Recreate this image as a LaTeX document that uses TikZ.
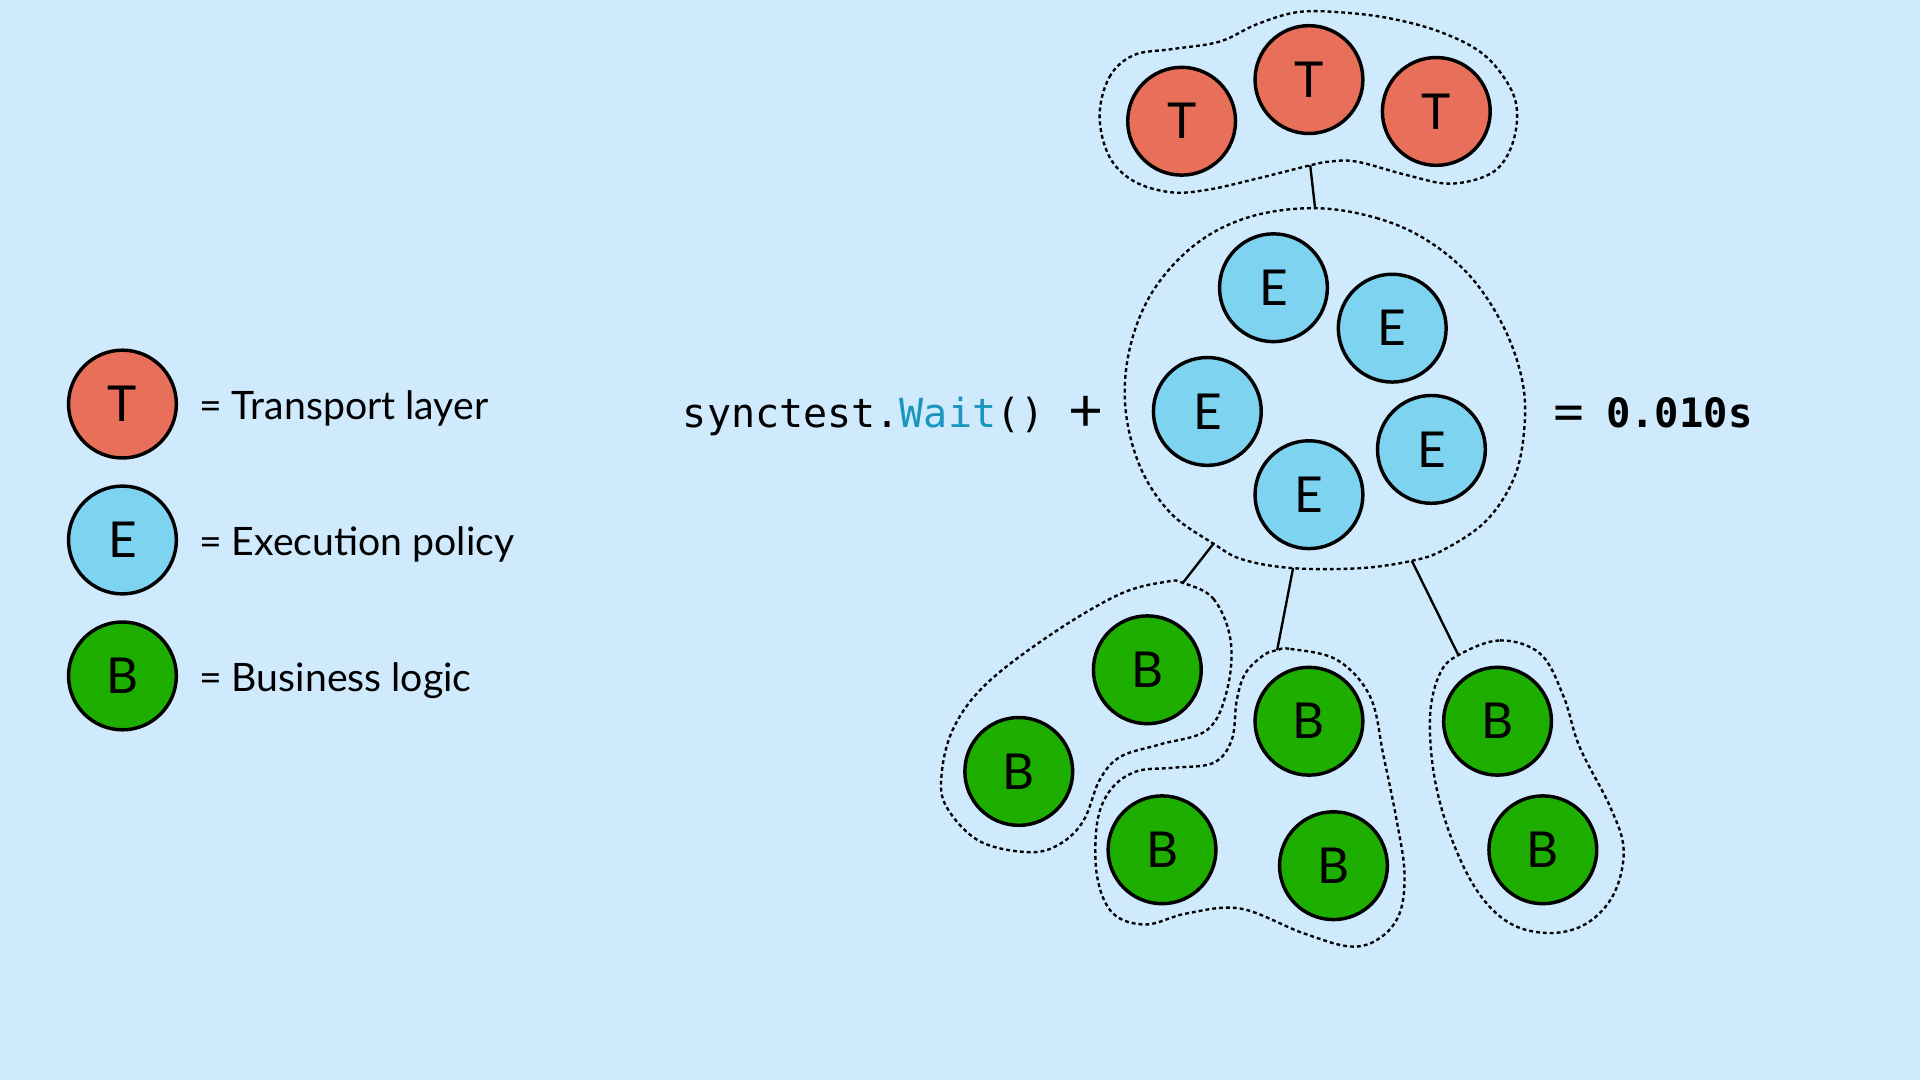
\documentclass[tikz,border=0pt]{standalone}
\usepackage{fontspec}
\setmainfont{Lato}
\setmonofont{DejaVu Sans Mono}
\usetikzlibrary{positioning}

\definecolor{bgblue}{RGB}{207,233,253}
\definecolor{tred}{RGB}{232,111,90}
\definecolor{eblue}{RGB}{126,211,240}
\definecolor{bgreen}{RGB}{30,174,0}
\definecolor{waitblue}{RGB}{24,150,190}

\begin{document}
\begin{tikzpicture}[x=0.01cm,y=-0.01cm,
  ball/.style={circle,draw,line width=0.8pt,minimum size=0.88cm,inner sep=0pt,font=\fontsize{11.5}{12}\selectfont},
  tball/.style={ball,fill=tred},
  eball/.style={ball,fill=eblue},
  bball/.style={ball,fill=bgreen},
  blob/.style={line width=0.55pt,dash pattern=on 0.9pt off 0.7pt},
  link/.style={line width=0.55pt},
  legtext/.style={anchor=base west,inner sep=0pt,font=\fontsize{9.1}{10}\selectfont}]

\fill[bgblue] (0,0) rectangle (1568,882);

% Legend
\node[tball] (legT) at (100,330) {T};
\node[eball] (legE) at (100,441) {E};
\node[bball] (legB) at (100,552) {B};
\node[legtext] (legTtext) at (162,342.5) {= Transport layer};
\node[legtext] (legEtext) at (162,453.5) {= Execution policy};
\node[legtext] (legBtext) at (162,564.5) {= Business logic};

% Equation
\node[anchor=base west,inner sep=0pt,font=\fontsize{9.3}{10}\ttfamily] (call) at (557,349) {synctest.\textcolor{waitblue}{Wait}()};
\node[inner sep=0pt,font=\fontsize{14}{14}\selectfont] (plus) at (887,338) {+};
\node[inner sep=0pt,font=\fontsize{14}{14}\selectfont] (equals) at (1281,343) {=};
\node[anchor=base west,inner sep=0pt,font=\fontsize{9.4}{10}\ttfamily\bfseries] (result) at (1311,349) {0.010s};

% Groups
\draw[blob] plot[smooth cycle,tension=0.6] coordinates {(898,95) (906,63) (926,45) (958,40) (996,34) (1026,20) (1059,10) (1094,10) (1135,15) (1176,26) (1211,44) (1233,71) (1239,95) (1233,123) (1217,142) (1184,150) (1149,143) (1108,132) (1086,132) (1070,135) (1026,146) (986,155) (956,157) (926,148) (906,128)};
\draw[blob] plot[smooth cycle,tension=0.6] coordinates {(1074,170) (1124,178) (1165,196) (1201,226) (1228,267) (1243,310) (1245,348) (1237,389) (1214,425) (1179,449) (1153,458) (1111,464) (1056,464) (1015,457) (991,444) (956,419) (931,381) (919,332) (923,283) (942,237) (977,199) (1021,177)};
\draw[blob] plot[smooth cycle,tension=0.6] coordinates {(966,476) (991,489) (1005,523) (1002,564) (986,596) (947,608) (915,618) (898,637) (885,670) (866,689) (841,696) (800,687) (773,659) (769,632) (779,594) (806,558) (860,517) (915,485) (953,475)};
\draw[blob] plot[smooth cycle,tension=0.6] coordinates {(1043,531) (1054,530) (1092,539) (1119,569) (1130,618) (1141,672) (1147,713) (1143,746) (1127,766) (1103,773) (1064,762) (1013,742) (969,746) (936,755) (909,746) (896,716) (896,672) (907,645) (928,630) (958,627) (991,623) (1006,604) (1010,572) (1017,550) (1032,535)};
\draw[blob] plot[smooth cycle,tension=0.6] coordinates {(1191,535) (1225,523) (1258,534) (1277,569) (1290,610) (1315,659) (1326,694) (1318,730) (1296,754) (1266,762) (1233,754) (1206,727) (1184,681) (1171,632) (1168,583) (1176,550)};

% Attachment points
\coordinate (tgrpBot) at (1070,135);
\coordinate (egrpTop) at (1074,170);
\coordinate (egrpL) at (991,444);
\coordinate (egrpM) at (1056,464);
\coordinate (egrpR) at (1153,458);
\coordinate (bgrpA) at (966,476);
\coordinate (bgrpB) at (1043,531);
\coordinate (bgrpC) at (1191,535);

\draw[link] (tgrpBot) -- (egrpTop);
\draw[link] (egrpL) -- (bgrpA);
\draw[link] (egrpM) -- (bgrpB);
\draw[link] (egrpR) -- (bgrpC);

% Transport layer
\node[tball] (t1) at (965,99) {T};
\node[tball] (t2) at (1069,65) {T};
\node[tball] (t3) at (1173,91) {T};

% Execution policy
\node[eball] (e1) at (1040,235) {E};
\node[eball] (e2) at (1137,268) {E};
\node[eball] (e3) at (986,336) {E};
\node[eball] (e4) at (1169,367) {E};
\node[eball] (e5) at (1069,404) {E};

% Business logic
\node[bball] (b1) at (937,547) {B};
\node[bball] (b2) at (832,630) {B};
\node[bball] (b3) at (1069,589) {B};
\node[bball] (b4) at (949,694) {B};
\node[bball] (b5) at (1089,707) {B};
\node[bball] (b6) at (1223,589) {B};
\node[bball] (b7) at (1260,694) {B};
\end{tikzpicture}
\end{document}
